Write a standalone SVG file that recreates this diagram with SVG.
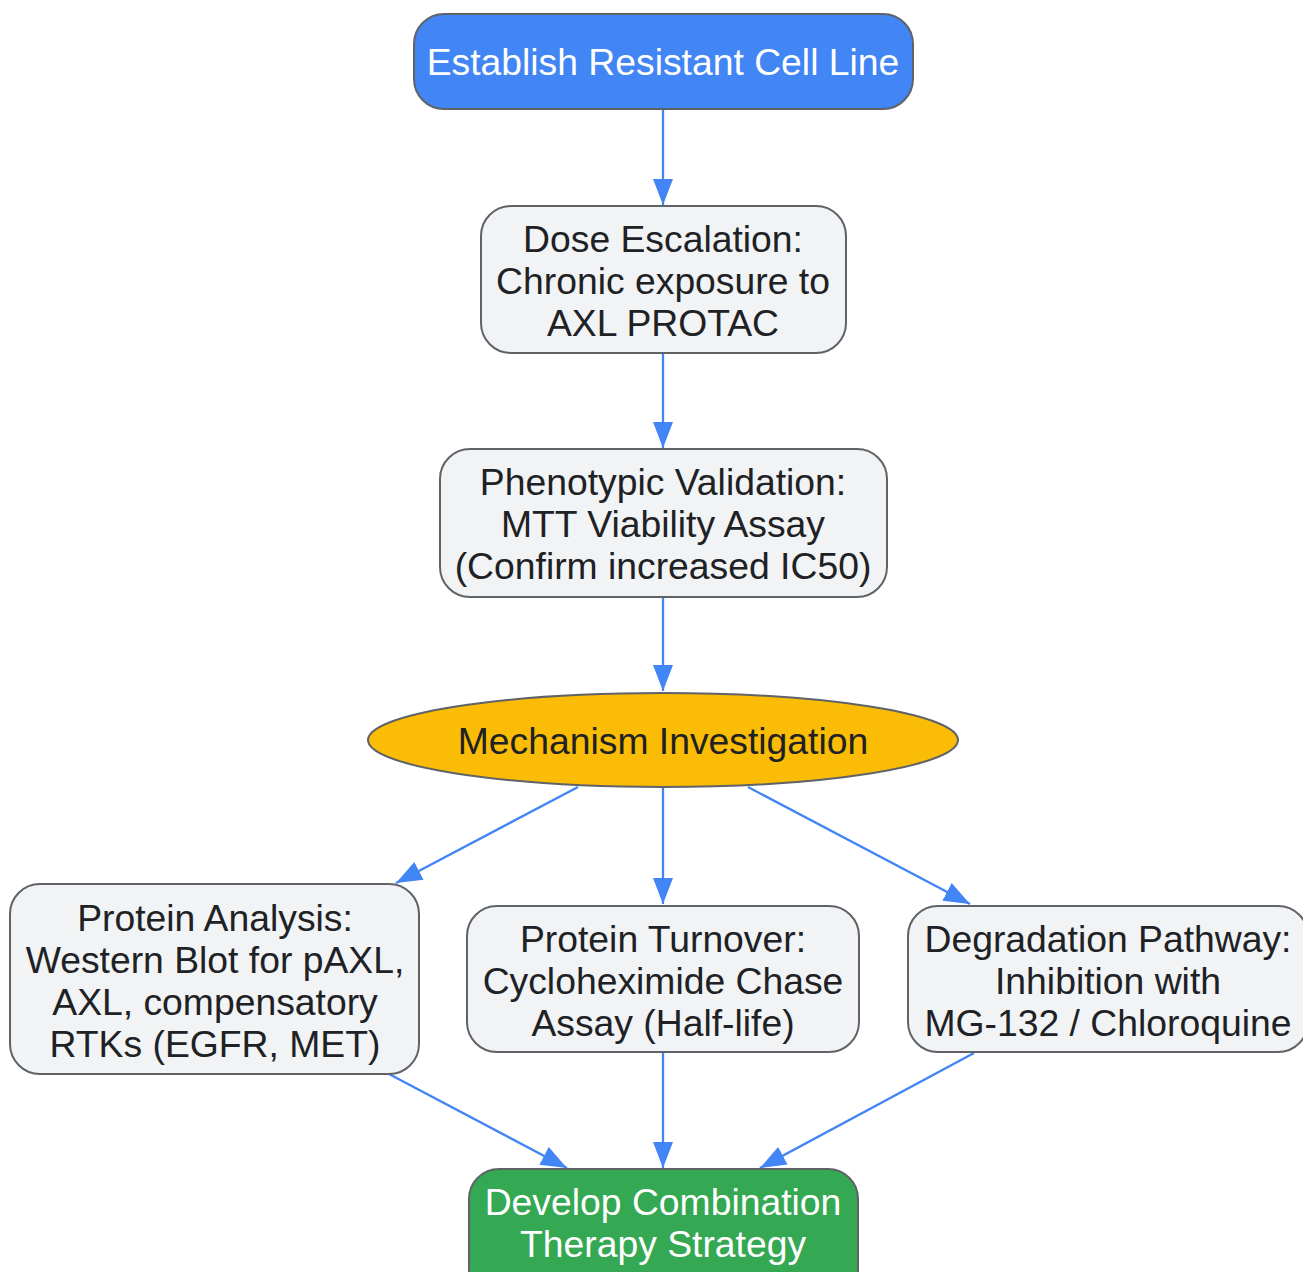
<svg xmlns="http://www.w3.org/2000/svg" width="1303" height="1272" viewBox="0 0 1303 1272">
<defs>
<marker id="a" viewBox="0 0 26 20" refX="26" refY="10" markerWidth="26" markerHeight="20" markerUnits="userSpaceOnUse" orient="auto">
<path d="M0,0 L26,10 L0,20 Z" fill="#4285F4"/>
</marker>
<style>
.n{fill:#F1F3F4;stroke:#5F6368;stroke-width:2}
.t{font-family:"Liberation Sans",Arial,sans-serif;font-size:37.3px;fill:#202124;text-anchor:middle;dominant-baseline:central}
.w{fill:#FFFFFF}
.e{stroke:#4285F4;stroke-width:2.3;fill:none;marker-end:url(#a)}
</style>
</defs>
<rect width="1303" height="1272" fill="#FFFFFF"/>
<g id="connectors">
<line class="e" x1="663" y1="109" x2="663" y2="205"/>
<line class="e" x1="663" y1="353" x2="663" y2="448"/>
<line class="e" x1="663" y1="597" x2="663" y2="691"/>
<line class="e" x1="578" y1="787" x2="396" y2="883"/>
<line class="e" x1="663" y1="787" x2="663" y2="904"/>
<line class="e" x1="748" y1="787" x2="970" y2="904"/>
<line class="e" x1="389" y1="1074" x2="567" y2="1168"/>
<line class="e" x1="663" y1="1052" x2="663" y2="1168"/>
<line class="e" x1="974" y1="1053" x2="760" y2="1168"/>
</g>
<g id="n1">
<rect x="414" y="14" width="499" height="95" rx="30" fill="#4285F4" stroke="#5F6368" stroke-width="2"/>
<text class="t w" x="663" y="62">Establish Resistant Cell Line</text>
</g>
<g id="n2">
<rect class="n" x="481" y="206" width="365" height="147" rx="30"/>
<text class="t" x="663" y="239">Dose Escalation:</text>
<text class="t" x="663" y="281">Chronic exposure to</text>
<text class="t" x="663" y="323">AXL PROTAC</text>
</g>
<g id="n3">
<rect class="n" x="440" y="449" width="447" height="148" rx="30"/>
<text class="t" x="663" y="482">Phenotypic Validation:</text>
<text class="t" x="663" y="524">MTT Viability Assay</text>
<text class="t" x="663" y="566">(Confirm increased IC50)</text>
</g>
<g id="n4">
<ellipse cx="663" cy="740" rx="295" ry="47" fill="#FBBC05" stroke="#5F6368" stroke-width="2"/>
<text class="t" x="663" y="741">Mechanism Investigation</text>
</g>
<g id="n5">
<rect class="n" x="10" y="884" width="409" height="190" rx="30"/>
<text class="t" x="215" y="918">Protein Analysis:</text>
<text class="t" x="215" y="960">Western Blot for pAXL,</text>
<text class="t" x="215" y="1002">AXL, compensatory</text>
<text class="t" x="215" y="1044">RTKs (EGFR, MET)</text>
</g>
<g id="n6">
<rect class="n" x="467" y="906" width="392" height="146" rx="30"/>
<text class="t" x="663" y="939">Protein Turnover:</text>
<text class="t" x="663" y="981">Cycloheximide Chase</text>
<text class="t" x="663" y="1023">Assay (Half-life)</text>
</g>
<g id="n7">
<rect class="n" x="908" y="906" width="400" height="146" rx="30"/>
<text class="t" x="1108" y="939">Degradation Pathway:</text>
<text class="t" x="1108" y="981">Inhibition with</text>
<text class="t" x="1108" y="1023">MG-132 / Chloroquine</text>
</g>
<g id="n8">
<rect x="469" y="1169" width="389" height="130" rx="30" fill="#34A853" stroke="#5F6368" stroke-width="2"/>
<text class="t w" x="663" y="1202">Develop Combination</text>
<text class="t w" x="663" y="1244">Therapy Strategy</text>
</g>
</svg>
